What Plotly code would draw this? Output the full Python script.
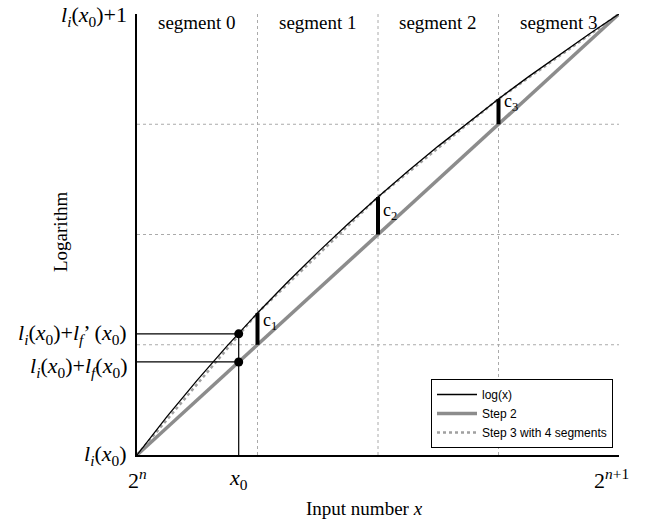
import plotly.graph_objects as go

# normalized mantissa positions (0 = 2^n, 1 = 2^(n+1))
x_log = [0, 0.0625, 0.125, 0.1875, 0.25, 0.3125, 0.375, 0.4375, 0.5,
         0.5625, 0.625, 0.6875, 0.75, 0.8125, 0.875, 0.9375, 1]
y_log = [0, 0.0875, 0.1699, 0.2479, 0.3219, 0.3923, 0.4594, 0.5236, 0.5850,
         0.6439, 0.7004, 0.7549, 0.8074, 0.8580, 0.9069, 0.9542, 1]
x_step2 = [0, 1]
y_step2 = [0, 1]
x_step3 = [0, 0.25, 0.5, 0.75, 1]
y_step3 = [0, 0.3219, 0.5850, 0.8074, 1]
seg_bounds = [0.25, 0.5, 0.75]
c_labels = ["c<sub>1</sub>", "c<sub>2</sub>", "c<sub>3</sub>"]
c_label_y = [0.3025, 0.552, 0.799]
segment_names = ["segment 0", "segment 1", "segment 2", "segment 3"]
x0 = 0.211
y_lf = 0.211
y_lf_prime = 0.2747

SERIF = "Liberation Serif"
GRAY = "#8c8c8c"

PL, PR, PT, PB = 137, 30, 14, 70
PW = 649 - PL - PR
PH = 525 - PT - PB

fig = go.Figure()

# gridlines (dotted)
for b in seg_bounds:
    fig.add_shape(type="line", x0=b, x1=b, y0=0, y1=1, xref="x", yref="y",
                  line=dict(color="#aaaaaa", width=1, dash="dot"), layer="below")
    fig.add_shape(type="line", x0=0, x1=1, y0=b, y1=b, xref="x", yref="y",
                  line=dict(color="#aaaaaa", width=1, dash="dot"), layer="below")

# guide lines to x0
fig.add_shape(type="line", x0=0, x1=x0, y0=y_lf_prime, y1=y_lf_prime,
              line=dict(color="black", width=1.2))
fig.add_shape(type="line", x0=0, x1=x0, y0=y_lf, y1=y_lf,
              line=dict(color="black", width=1.2))
fig.add_shape(type="line", x0=x0, x1=x0, y0=0, y1=y_lf_prime,
              line=dict(color="black", width=1.2))

fig.add_trace(go.Scatter(x=x_step2, y=y_step2, mode="lines", name="Step 2",
                         legendrank=2, line=dict(color=GRAY, width=3.5)))
fig.add_trace(go.Scatter(x=x_step3, y=y_step3, mode="lines",
                         name="Step 3 with 4 segments", legendrank=3,
                         line=dict(color="#a0a0a0", width=2.5, dash="dot")))
fig.add_trace(go.Scatter(x=x_log, y=y_log, mode="lines", name="log(x)",
                         legendrank=1, line=dict(color="black", width=1.3)))

# c_k bars
for i, b in enumerate(seg_bounds):
    fig.add_trace(go.Scatter(x=[b, b], y=[b, y_step3[i + 1]], mode="lines",
                             line=dict(color="black", width=4),
                             showlegend=False, hoverinfo="skip"))
    fig.add_annotation(x=b, y=c_label_y[i], text=c_labels[i], showarrow=False,
                       xanchor="left", xshift=3,
                       font=dict(family=SERIF, size=18, color="black"))

# dots
fig.add_trace(go.Scatter(x=[x0, x0], y=[y_lf, y_lf_prime], mode="markers",
                         marker=dict(color="black", size=9),
                         showlegend=False, hoverinfo="skip"))

# segment labels
for i, name in enumerate(segment_names):
    fig.add_annotation(x=0.125 + 0.25 * i, y=1, yshift=-8, text=name,
                       showarrow=False, yanchor="middle",
                       font=dict(family=SERIF, size=19, color="black"))

# y-axis labels
ylabels = [
    (1, "<i>l</i><sub><i>i</i></sub>(<i>x</i><sub>0</sub>)+1", -2),
    (y_lf_prime, "<i>l</i><sub><i>i</i></sub>(<i>x</i><sub>0</sub>)+<i>l</i><sub><i>f</i></sub>’ (<i>x</i><sub>0</sub>)", 0),
    (y_lf, "<i>l</i><sub><i>i</i></sub>(<i>x</i><sub>0</sub>)+<i>l</i><sub><i>f</i></sub>(<i>x</i><sub>0</sub>)", -5),
    (0, "<i>l</i><sub><i>i</i></sub>(<i>x</i><sub>0</sub>)", 0),
]
for yv, txt, ys in ylabels:
    fig.add_annotation(x=0, y=yv, xref="x", yref="y", text=txt, showarrow=False,
                       xanchor="right", xshift=-8, yshift=ys,
                       font=dict(family=SERIF, size=22, color="black"))

# x-axis labels
xlabels = [(0, "2<sup><i>n</i></sup>"), (x0, "<i>x</i><sub>0</sub>"),
           (1, "2<sup><i>n</i>+1</sup>")]
for xv, txt in xlabels:
    fig.add_annotation(x=xv, y=0, xref="x", yref="y", text=txt, showarrow=False,
                       yanchor="top", yshift=-8, xshift=(-8 if xv == 1 else 0),
                       font=dict(family=SERIF, size=22, color="black"))

# axis titles
fig.add_annotation(x=(364 - PL) / PW, y=-(508 - (525 - PB)) / PH,
                   xref="paper", yref="paper", xanchor="center", yanchor="middle",
                   text="Input number <i>x</i>", showarrow=False,
                   font=dict(family=SERIF, size=19, color="black"))
fig.add_annotation(x=(61 - PL) / PW, y=(455 - 232) / PH,
                   xref="paper", yref="paper", xanchor="center", yanchor="middle",
                   text="Logarithm", showarrow=False, textangle=-90,
                   font=dict(family=SERIF, size=19, color="black"))

fig.update_layout(
    width=649, height=525,
    margin=dict(l=PL, r=PR, t=PT, b=PB),
    plot_bgcolor="white", paper_bgcolor="white",
    showlegend=True,
    legend=dict(x=(613 - PL) / PW, y=7 / PH, xanchor="right", yanchor="bottom",
                bordercolor="black", borderwidth=1, bgcolor="white",
                font=dict(family="Liberation Sans", size=12, color="black"),
                tracegroupgap=0, itemwidth=40),
    xaxis=dict(range=[0, 1], showgrid=False, zeroline=False, showticklabels=False,
               ticks="", showline=True, linecolor="black", linewidth=1.5),
    yaxis=dict(range=[0, 1], showgrid=False, zeroline=False, showticklabels=False,
               ticks="", showline=True, linecolor="black", linewidth=1.5),
)

fig.write_html("out.html")
